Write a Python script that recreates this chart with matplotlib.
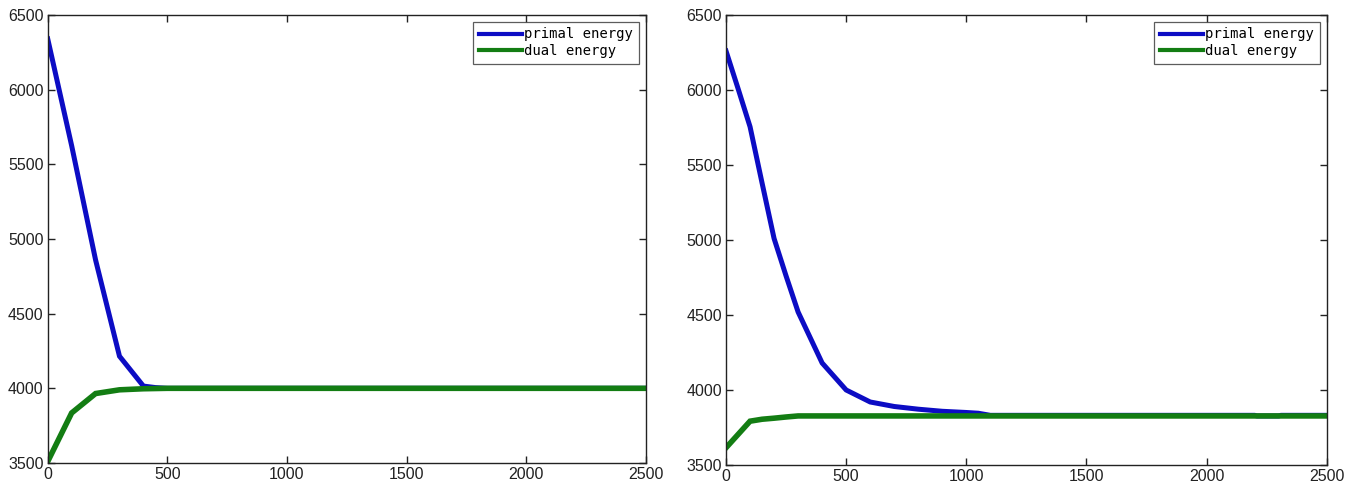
import matplotlib
matplotlib.use("Agg")
import matplotlib.pyplot as plt

# Left panel data
left_primal_x = [0, 100, 200, 300, 400, 450, 500, 1000, 1500, 2000, 2500]
left_primal_y = [6340, 5625, 4860, 4215, 4015, 4005, 4000, 4000, 4000, 4000, 4000]
left_dual_x = [0, 100, 200, 300, 400, 500, 1000, 1500, 2000, 2500]
left_dual_y = [3510, 3835, 3965, 3990, 3997, 4000, 4000, 4000, 4000, 4000]

# Right panel data
right_primal_x = [0, 50, 100, 150, 200, 250, 300, 400, 500, 600, 700, 800, 900,
                  1000, 1050, 1100, 2200, 2210, 2300, 2310, 2500]
right_primal_y = [6260, 6010, 5755, 5380, 5010, 4760, 4520, 4180, 4000, 3920, 3890,
                  3872, 3858, 3850, 3845, 3831, 3831, 3827, 3827, 3831, 3831]
right_dual_x = [0, 100, 150, 200, 250, 300, 1000, 1500, 2000, 2500]
right_dual_y = [3615, 3792, 3805, 3812, 3820, 3827, 3827, 3827, 3827, 3827]

series_labels = ["primal energy", "dual energy"]
xticks = [0, 500, 1000, 1500, 2000, 2500]
yticks = [3500, 4000, 4500, 5000, 5500, 6000, 6500]

blue = "#0c0cc4"
green = "#137d13"

fig = plt.figure(figsize=(13.52, 4.87), dpi=100)
ax1 = fig.add_axes([0.0353, 0.0493, 0.4423, 0.92])
ax2 = fig.add_axes([0.537, 0.0452, 0.4443, 0.924])

panels = [
    (ax1, left_primal_x, left_primal_y, left_dual_x, left_dual_y),
    (ax2, right_primal_x, right_primal_y, right_dual_x, right_dual_y),
]

for ax, px, py, dx, dy in panels:
    ax.plot(px, py, color=blue, lw=3.6, label=series_labels[0], solid_joinstyle="miter")
    ax.plot(dx, dy, color=green, lw=4.0, label=series_labels[1], solid_joinstyle="miter")
    ax.set_xlim(0, 2500)
    ax.set_ylim(3500, 6500)
    ax.set_xticks(xticks)
    ax.set_yticks(yticks)
    ax.set_xticklabels([str(t) for t in xticks], fontsize=11.5, family="Liberation Sans")
    ax.set_yticklabels([str(t) for t in yticks], fontsize=11.5, family="Liberation Sans")
    ax.tick_params(direction="in", length=5, width=1, top=True, right=True,
                   pad=3, colors="#222222")
    for s in ax.spines.values():
        s.set_linewidth(1.0)
        s.set_color("#222222")
    leg = ax.legend(loc="upper right", prop={"family": "DejaVu Sans Mono", "size": 10},
                    frameon=True, fancybox=False, borderpad=0.4, handlelength=3.1,
                    handletextpad=0.2, labelspacing=0.2, borderaxespad=0.5)
    leg.get_frame().set_edgecolor("#333333")
    leg.get_frame().set_linewidth(0.9)
    for line in leg.get_lines():
        line.set_linewidth(3.0)

fig.savefig("out.png", dpi=100)
